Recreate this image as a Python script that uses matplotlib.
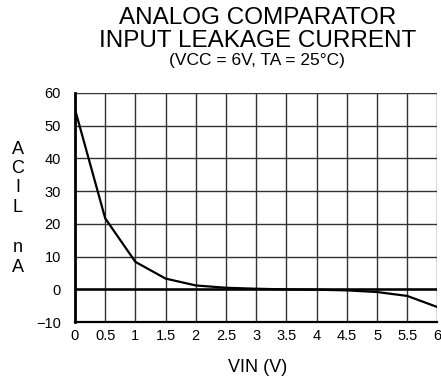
import numpy as np
import matplotlib.pyplot as plt

plt.rcParams['font.family'] = ['Liberation Sans', 'DejaVu Sans']

vin = [0, 0.5, 1, 1.5, 2, 2.5, 3, 3.5, 4, 4.5, 5, 5.5, 6]
i_acil = [55, 21.7, 8.4, 3.3, 1.2, 0.5, 0.2, 0.0, -0.1, -0.3, -0.8, -2.0, -5.4]

x_ticks = [0, 0.5, 1, 1.5, 2, 2.5, 3, 3.5, 4, 4.5, 5, 5.5, 6]
x_tick_labels = ['0', '0.5', '1', '1.5', '2', '2.5', '3', '3.5', '4', '4.5', '5', '5.5', '6']
y_ticks = [-10, 0, 10, 20, 30, 40, 50, 60]

fig = plt.figure(figsize=(4.41, 3.79), dpi=100)
ax = fig.add_axes([0.170, 0.150, 0.822, 0.605])

ax.plot(vin, i_acil, color='black', lw=1.6, solid_joinstyle='miter', zorder=3)
ax.axhline(0, color='black', lw=1.8, zorder=2)

ax.set_xlim(0, 6)
ax.set_ylim(-10, 60)
ax.set_xticks(x_ticks)
ax.set_xticklabels(x_tick_labels)
ax.set_yticks(y_ticks)
ax.tick_params(length=0, labelsize=10.5)
ax.tick_params(axis='y', pad=10)
ax.tick_params(axis='x', pad=5)
ax.grid(True, color='#333333', lw=1.0)

for side in ['top', 'right']:
    ax.spines[side].set_visible(False)
ax.spines['left'].set_linewidth(2.0)
ax.spines['bottom'].set_linewidth(1.6)

# Titel
fig.text(0.585, 1 - 18 / 379, 'ANALOG COMPARATOR', ha='center', va='center', fontsize=17.5)
fig.text(0.585, 1 - 41 / 379, 'INPUT LEAKAGE CURRENT', ha='center', va='center', fontsize=17.5)
fig.text(0.583, 1 - 61 / 379, '(VCC = 6V, TA = 25°C)', ha='center', va='center', fontsize=12.5)

# Achsenbeschriftungen
fig.text(0.585, 1 - 367 / 379, 'VIN (V)', ha='center', va='center', fontsize=13)
for ch, ypix in zip(['A', 'C', 'I', 'L', 'n', 'A'], [150, 169, 188, 207, 247, 267]):
    fig.text(18 / 441, 1 - ypix / 379, ch, ha='center', va='center', fontsize=13)

plt.savefig('out.png', dpi=100)
